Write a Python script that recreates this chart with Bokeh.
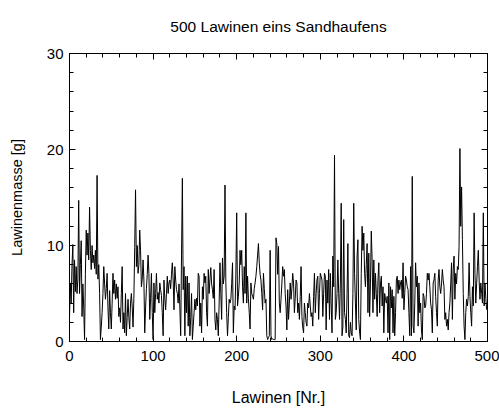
from bokeh.plotting import figure
from bokeh.models import (Range1d, SingleIntervalTicker, LinearAxis)
from bokeh.embed import file_html
from bokeh.resources import INLINE

# ---- data ----
title_text = "500 Lawinen eins Sandhaufens"
x_label = "Lawinen [Nr.]"
y_label = "Lawinenmasse [g]"

masses = [
    2.5, 6.1, 4.0, 8.0, 10.1, 3.0, 8.5, 5.2, 7.8, 5.0,
    6.5, 14.7, 5.0, 8.0, 10.5, 2.6, 6.0, 3.5, 0.2, 7.0,
    11.6, 9.0, 11.3, 8.5, 14.0, 9.5, 7.5, 10.0, 8.2, 9.0,
    7.6, 9.5, 7.0, 17.3, 6.5, 8.0, 5.0, 0.2, 1.5, 3.0,
    5.0, 7.8, 6.0, 4.4, 5.5, 7.1, 3.5, 1.3, 5.3, 3.0,
    1.3, 4.0, 7.1, 5.0, 6.4, 4.4, 6.0, 4.5, 5.7, 2.6,
    3.5, 2.0, 5.0, 7.8, 1.3, 3.0, 0.9, 5.0, 0.6, 2.5,
    4.4, 2.5, 1.3, 4.0, 5.0, 3.6, 1.5, 4.5, 9.8, 15.8,
    7.8, 10.0, 7.1, 8.0, 11.6, 9.5, 5.7, 6.5, 8.5, 6.4,
    0.9, 3.5, 5.5, 7.0, 9.0, 7.1, 2.3, 4.5, 7.1, 3.0,
    0.2, 6.1, 3.0, 5.0, 7.1, 4.4, 5.1, 4.0, 6.1, 5.4,
    4.8, 3.0, 0.6, 6.4, 4.5, 3.3, 5.0, 6.8, 5.0, 6.1,
    6.4, 5.5, 7.0, 8.2, 6.4, 3.3, 7.8, 6.4, 5.4, 5.0,
    4.0, 6.0, 3.5, 0.6, 9.0, 17.0, 5.4, 7.8, 0.6, 6.8,
    3.0, 6.8, 1.6, 6.1, 0.6, 2.5, 5.0, 0.2, 1.6, 3.0,
    4.4, 3.3, 4.5, 3.7, 7.1, 6.8, 1.6, 4.0, 0.9, 5.7,
    4.4, 7.1, 6.1, 6.8, 3.0, 1.6, 7.5, 5.0, 6.5, 7.7,
    6.0, 5.4, 4.5, 7.5, 2.3, 1.2, 3.0, 2.3, 0.6, 4.0,
    8.2, 5.0, 2.3, 8.7, 6.0, 6.8, 16.3, 6.1, 3.0, 0.6,
    2.5, 4.4, 4.0, 4.4, 6.0, 8.2, 0.9, 3.7, 3.3, 7.0,
    13.4, 3.7, 4.7, 6.1, 9.5, 8.0, 9.5, 5.7, 4.0, 7.8,
    5.0, 13.4, 4.0, 6.8, 4.5, 3.0, 1.3, 6.1, 5.0, 4.7,
    4.4, 5.5, 6.1, 6.8, 7.8, 9.0, 10.2, 8.2, 7.0, 6.4,
    5.0, 3.3, 7.1, 5.5, 4.0, 4.4, 0.6, 0.2, 0.4, 0.6,
    9.5, 0.6, 0.2, 0.3, 0.2, 0.2, 0.2, 10.8, 10.2, 7.0,
    9.9, 4.0, 3.0, 4.4, 6.0, 7.8, 6.8, 7.5, 5.0, 3.7,
    1.2, 5.4, 2.3, 4.0, 6.1, 4.4, 5.5, 7.1, 6.1, 3.0,
    4.5, 6.4, 6.1, 3.0, 4.0, 2.3, 4.7, 7.8, 2.6, 1.5,
    0.9, 4.0, 3.0, 2.0, 1.6, 4.0, 3.5, 5.0, 3.7, 2.6,
    3.0, 1.6, 4.7, 7.1, 3.0, 5.0, 6.4, 6.8, 2.3, 5.0,
    7.1, 6.8, 6.4, 2.6, 5.0, 7.1, 6.8, 1.2, 6.4, 4.0,
    7.5, 2.3, 7.1, 4.0, 0.9, 8.9, 5.7, 19.4, 2.3, 3.0,
    5.0, 8.5, 5.0, 2.3, 6.0, 14.4, 0.6, 1.5, 12.7, 3.0,
    2.3, 0.9, 5.0, 10.2, 0.6, 0.4, 2.0, 0.9, 0.6, 5.0,
    14.4, 7.1, 4.0, 1.2, 8.9, 10.6, 2.3, 1.0, 0.2, 7.1,
    12.0, 9.5, 11.3, 7.1, 5.7, 8.0, 10.2, 3.0, 9.2, 2.6,
    6.0, 11.5, 8.5, 3.0, 8.5, 4.4, 7.1, 5.0, 2.6, 6.4,
    8.2, 3.0, 6.0, 6.8, 3.7, 5.7, 0.9, 5.0, 4.4, 4.0,
    4.7, 0.9, 6.1, 0.2, 5.7, 3.5, 5.4, 0.9, 4.7, 0.6,
    3.0, 6.4, 6.8, 5.0, 6.4, 5.4, 6.1, 6.4, 4.5, 8.2,
    3.3, 5.0, 6.8, 6.4, 5.7, 5.4, 3.0, 0.6, 7.8, 0.6,
    17.2, 1.6, 0.9, 4.0, 8.2, 5.7, 6.8, 1.6, 6.1, 3.0,
    4.0, 1.2, 0.2, 5.0, 4.7, 3.5, 3.7, 5.0, 7.1, 6.4,
    7.1, 5.7, 4.0, 3.3, 0.9, 6.1, 6.4, 7.1, 4.7, 3.0,
    1.6, 6.4, 7.5, 5.7, 5.0, 6.0, 7.5, 6.4, 5.7, 2.3,
    3.0, 1.6, 2.3, 1.2, 3.0, 4.0, 6.0, 8.2, 2.3, 7.5,
    8.9, 4.4, 7.1, 6.0, 7.8, 7.5, 9.9, 20.1, 12.0, 16.1,
    10.6, 5.0, 1.6, 0.2, 3.0, 4.4, 3.7, 4.7, 8.2, 4.7,
    3.0, 1.6, 5.7, 3.7, 13.4, 7.1, 4.0, 6.0, 7.8, 9.5,
    6.4, 4.4, 6.1, 5.0, 4.0, 13.4, 3.7, 6.1, 4.5, 3.3,
]
avalanche_nr = list(range(len(masses)))

FONT = "Liberation Sans"

p = figure(width=499, height=408, output_backend="svg", toolbar_location=None,
           x_range=Range1d(0, 500), y_range=Range1d(0, 30),
           x_axis_location=None, y_axis_location=None,
           title=title_text,
           min_border_left=69, min_border_right=12,
           min_border_top=53, min_border_bottom=66)
p.grid.visible = False
p.background_fill_color = "white"
p.border_fill_color = "white"
p.outline_line_color = "black"
p.outline_line_width = 1

p.title.align = "center"
p.title.vertical_align = "top"
p.title.text_font = FONT
p.title.text_font_size = "15.5px"
p.title.text_font_style = "normal"
p.title.text_color = "black"
p.title.standoff = 34

xt = SingleIntervalTicker(interval=100, num_minor_ticks=5)
yt = SingleIntervalTicker(interval=10, num_minor_ticks=5)


def style(ax, labels=True, label_size="16px"):
    ax.axis_line_color = "black"
    ax.major_tick_in = 6
    ax.major_tick_out = 0
    ax.minor_tick_in = 4
    ax.minor_tick_out = 0
    ax.major_tick_line_color = "black"
    ax.minor_tick_line_color = "black"
    if labels:
        ax.major_label_text_font = FONT
        ax.major_label_text_font_size = "15px"
        ax.major_label_text_color = "black"
        ax.axis_label_text_font = FONT
        ax.axis_label_text_font_size = label_size
        ax.axis_label_text_font_style = "normal"
        ax.axis_label_text_color = "black"
    else:
        ax.major_label_text_font_size = "0px"
        ax.major_label_text_color = None
        ax.major_label_standoff = 0


bottom = LinearAxis(ticker=xt, axis_label=x_label)
style(bottom, label_size="16px")
bottom.major_label_standoff = 9
bottom.axis_label_standoff = 25
p.add_layout(bottom, "below")

left = LinearAxis(ticker=yt, axis_label=y_label)
style(left, label_size="14.5px")
left.major_label_standoff = 6
left.axis_label_standoff = 19
p.add_layout(left, "left")

top = LinearAxis(ticker=SingleIntervalTicker(interval=100, num_minor_ticks=5))
style(top, labels=False)
p.add_layout(top, "above")

right = LinearAxis(ticker=SingleIntervalTicker(interval=10, num_minor_ticks=5))
style(right, labels=False)
p.add_layout(right, "right")

p.line(avalanche_nr, masses, line_color="black", line_width=1)

open("out.html", "w").write(file_html(p, INLINE))
